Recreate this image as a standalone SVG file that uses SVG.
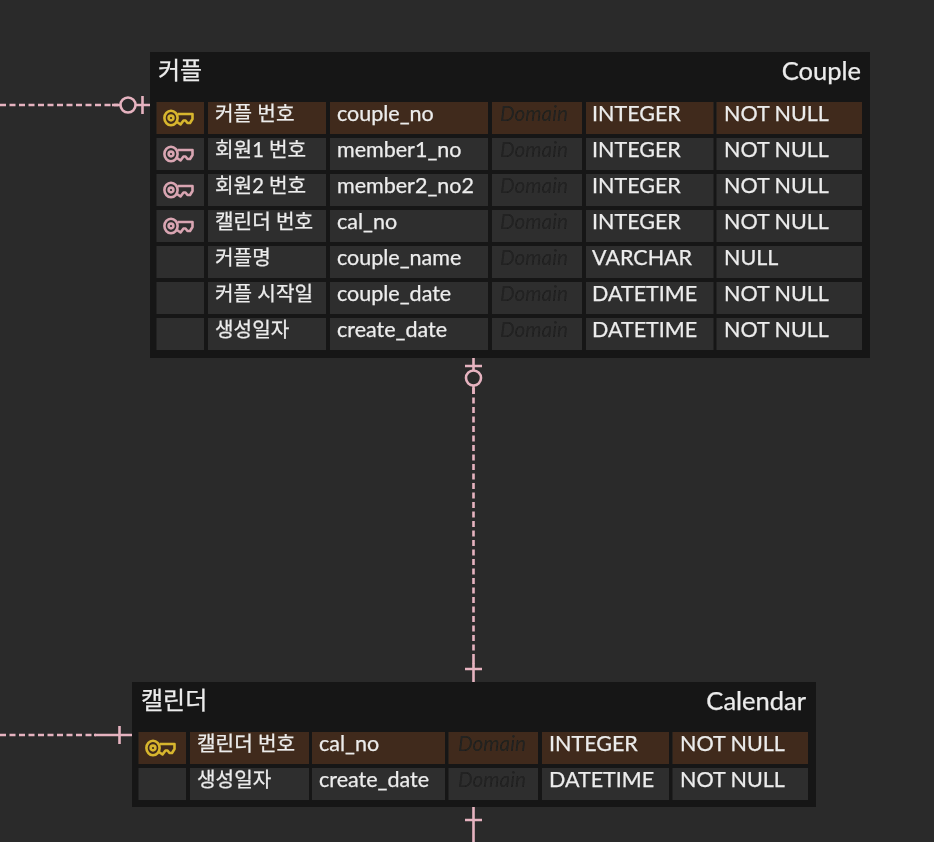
<svg xmlns="http://www.w3.org/2000/svg" width="934" height="842" viewBox="0 0 934 842">
<style>
.bg{fill:#2a2a2a}
.tbl{fill:#191919}
.c{fill:#2f2f2f}
.p{fill:#412c1c}
text{font-family:"Lato","Noto Sans CJK KR",sans-serif;font-size:21.5px;fill:#ececec;stroke:#ececec;stroke-width:.25}
.k{font-size:20.2px}
.t{font-size:24px}
.e{font-size:25.5px}
.d{font-style:italic;fill:#202020;stroke:none;font-size:20.7px}
.rel{fill:none;stroke:#e6b3c0;stroke-width:2.6}
.dash{stroke-dasharray:6 3.5}
.key{fill:none;stroke-width:2.6;stroke-linejoin:round}
.kp{stroke:#d8b62e}
.kf{stroke:#d9a5b2}
</style>
<defs>
<g id="key"><ellipse cx="6" cy="-1" rx="6.600" ry="7.200"/><circle cx="6" cy="-1" r="2.400"/><path d="M12.500 -5H27.500V0L25 4H22.500L20.500 1.500H18.500L15.500 5.500L12 3"/></g>
<filter id="soft" x="0" y="0" width="100%" height="100%"><feGaussianBlur stdDeviation="0.6"/></filter>
</defs>
<rect class="bg" width="934" height="842"/>
<g filter="url(#soft)">
<g id="connectors">
<path class="rel dash" d="M0 105H118"/>
<path class="rel" d="M112 105H120"/><circle class="rel" cx="128" cy="105" r="7.500"/><path class="rel" d="M135.500 105H150M142.500 96V114"/>
<path class="rel dash" d="M473.500 388V664"/>
<path class="rel" d="M473.500 358V370M465 366H482"/><circle class="rel" cx="473.500" cy="378" r="7.500"/><path class="rel" d="M473.500 385.500V394"/>
<path class="rel" d="M473.500 660V682M465 669H482"/>
<path class="rel dash" d="M0 735H96"/>
<path class="rel" d="M94 735H132M119.500 726V744"/>
<path class="rel" d="M473.500 807V842M465 820H482"/>
</g>
<g id="couple">
<rect class="tbl" x="150" y="52" width="720" height="306"/>
<text class="t" x="158" y="79">커플</text>
<text class="e" x="861" y="79.500" text-anchor="end">Couple</text>
<g>
<rect class="p" x="156.500" y="102" width="47.500" height="32"/><rect class="p" x="208" y="102" width="118" height="32"/><rect class="p" x="330" y="102" width="158" height="32"/><rect class="p" x="492" y="102" width="90" height="32"/><rect class="p" x="586" y="102" width="127.500" height="32"/><rect class="p" x="716.500" y="102" width="145.500" height="32"/>
<use href="#key" class="key kp" x="165" y="119"/>
<text class="k" x="215" y="121">커플 번호</text><text x="337" y="120.500">couple_no</text><text class="d" x="500" y="120.500">Domain</text><text x="592" y="120.500">INTEGER</text><text x="724" y="120.500">NOT NULL</text>
</g>
<g>
<rect class="c" x="156.500" y="138" width="47.500" height="32"/><rect class="c" x="208" y="138" width="118" height="32"/><rect class="c" x="330" y="138" width="158" height="32"/><rect class="c" x="492" y="138" width="90" height="32"/><rect class="c" x="586" y="138" width="127.500" height="32"/><rect class="c" x="716.500" y="138" width="145.500" height="32"/>
<use href="#key" class="key kf" x="165" y="155"/>
<text class="k" x="215" y="157">회원1 번호</text><text x="337" y="156.500">member1_no</text><text class="d" x="500" y="156.500">Domain</text><text x="592" y="156.500">INTEGER</text><text x="724" y="156.500">NOT NULL</text>
</g>
<g>
<rect class="c" x="156.500" y="174" width="47.500" height="32"/><rect class="c" x="208" y="174" width="118" height="32"/><rect class="c" x="330" y="174" width="158" height="32"/><rect class="c" x="492" y="174" width="90" height="32"/><rect class="c" x="586" y="174" width="127.500" height="32"/><rect class="c" x="716.500" y="174" width="145.500" height="32"/>
<use href="#key" class="key kf" x="165" y="191"/>
<text class="k" x="215" y="193">회원2 번호</text><text x="337" y="192.500">member2_no2</text><text class="d" x="500" y="192.500">Domain</text><text x="592" y="192.500">INTEGER</text><text x="724" y="192.500">NOT NULL</text>
</g>
<g>
<rect class="c" x="156.500" y="210" width="47.500" height="32"/><rect class="c" x="208" y="210" width="118" height="32"/><rect class="c" x="330" y="210" width="158" height="32"/><rect class="c" x="492" y="210" width="90" height="32"/><rect class="c" x="586" y="210" width="127.500" height="32"/><rect class="c" x="716.500" y="210" width="145.500" height="32"/>
<use href="#key" class="key kf" x="165" y="227"/>
<text class="k" x="215" y="229">캘린더 번호</text><text x="337" y="228.500">cal_no</text><text class="d" x="500" y="228.500">Domain</text><text x="592" y="228.500">INTEGER</text><text x="724" y="228.500">NOT NULL</text>
</g>
<g>
<rect class="c" x="156.500" y="246" width="47.500" height="32"/><rect class="c" x="208" y="246" width="118" height="32"/><rect class="c" x="330" y="246" width="158" height="32"/><rect class="c" x="492" y="246" width="90" height="32"/><rect class="c" x="586" y="246" width="127.500" height="32"/><rect class="c" x="716.500" y="246" width="145.500" height="32"/>
<text class="k" x="215" y="265">커플명</text><text x="337" y="264.500">couple_name</text><text class="d" x="500" y="264.500">Domain</text><text x="592" y="264.500">VARCHAR</text><text x="724" y="264.500">NULL</text>
</g>
<g>
<rect class="c" x="156.500" y="282" width="47.500" height="32"/><rect class="c" x="208" y="282" width="118" height="32"/><rect class="c" x="330" y="282" width="158" height="32"/><rect class="c" x="492" y="282" width="90" height="32"/><rect class="c" x="586" y="282" width="127.500" height="32"/><rect class="c" x="716.500" y="282" width="145.500" height="32"/>
<text class="k" x="215" y="301">커플 시작일</text><text x="337" y="300.500">couple_date</text><text class="d" x="500" y="300.500">Domain</text><text x="592" y="300.500">DATETIME</text><text x="724" y="300.500">NOT NULL</text>
</g>
<g>
<rect class="c" x="156.500" y="318" width="47.500" height="32"/><rect class="c" x="208" y="318" width="118" height="32"/><rect class="c" x="330" y="318" width="158" height="32"/><rect class="c" x="492" y="318" width="90" height="32"/><rect class="c" x="586" y="318" width="127.500" height="32"/><rect class="c" x="716.500" y="318" width="145.500" height="32"/>
<text class="k" x="215" y="337">생성일자</text><text x="337" y="336.500">create_date</text><text class="d" x="500" y="336.500">Domain</text><text x="592" y="336.500">DATETIME</text><text x="724" y="336.500">NOT NULL</text>
</g>
</g>
<g id="calendar">
<rect class="tbl" x="132" y="682" width="684" height="125"/>
<text class="t" x="141" y="709">캘린더</text>
<text class="e" x="806" y="709.500" text-anchor="end">Calendar</text>
<g>
<rect class="p" x="138.500" y="732" width="47.500" height="32"/><rect class="p" x="190" y="732" width="119" height="32"/><rect class="p" x="312" y="732" width="133" height="32"/><rect class="p" x="448.500" y="732" width="89.500" height="32"/><rect class="p" x="542" y="732" width="127" height="32"/><rect class="p" x="672.500" y="732" width="135.500" height="32"/>
<use href="#key" class="key kp" x="147" y="749"/>
<text class="k" x="197" y="751">캘린더 번호</text><text x="319" y="750.500">cal_no</text><text class="d" x="458" y="750.500">Domain</text><text x="549" y="750.500">INTEGER</text><text x="680" y="750.500">NOT NULL</text>
</g>
<g>
<rect class="c" x="138.500" y="768" width="47.500" height="32"/><rect class="c" x="190" y="768" width="119" height="32"/><rect class="c" x="312" y="768" width="133" height="32"/><rect class="c" x="448.500" y="768" width="89.500" height="32"/><rect class="c" x="542" y="768" width="127" height="32"/><rect class="c" x="672.500" y="768" width="135.500" height="32"/>
<text class="k" x="197" y="787">생성일자</text><text x="319" y="786.500">create_date</text><text class="d" x="458" y="786.500">Domain</text><text x="549" y="786.500">DATETIME</text><text x="680" y="786.500">NOT NULL</text>
</g>
</g>
</g>
</svg>
